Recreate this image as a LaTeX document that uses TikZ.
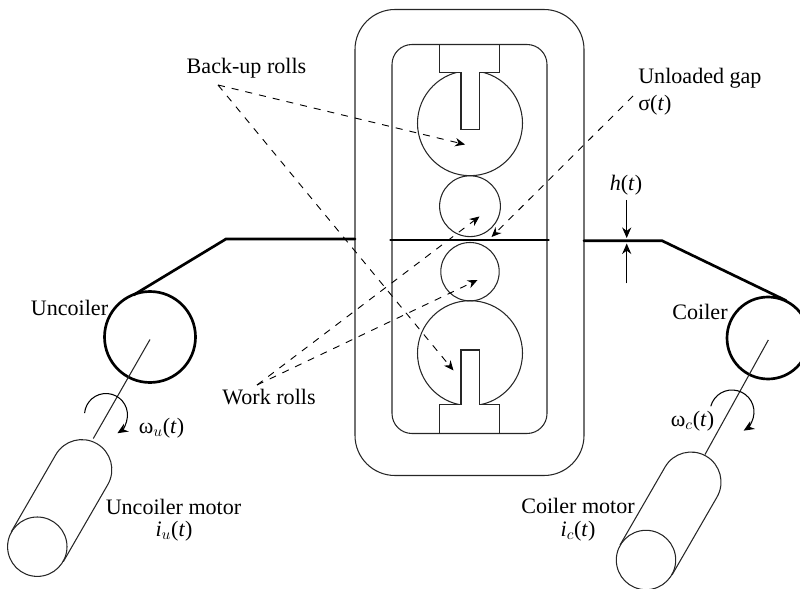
\documentclass[tikz,border=0pt]{standalone}
\usepackage{fontspec}
\setmainfont{Liberation Serif}
\usetikzlibrary{arrows.meta}
\tikzset{
  part/.style={line width=0.75pt, draw=black!85},
  strip/.style={line width=1.9pt, line cap=round},
  coil/.style={line width=1.9pt},
  leader/.style={line width=0.65pt, dash pattern=on 5pt off 5pt, -{Stealth[length=7pt,width=6pt]}},
  turn/.style={line width=0.75pt, -{Stealth[length=7.5pt,width=6.5pt]}},
  label/.style={font=\fontsize{15.7}{18}\selectfont, inner sep=0pt}
}
\begin{document}
\begin{tikzpicture}[x=0.025cm, y=0.025cm]

  \path[use as bounding box, clip] (0,-589) rectangle (800,0);

  % Rolls
  \draw[part] (470,-123.2) circle (52.5);
  \draw[part] (470,-206.2) circle (30.4);
  \draw[part] (470,-271.7) circle (29.2);
  \draw[part] (470,-353.2) circle (52.5);

  % Chocks
  \draw[part, fill=white] (439.5,-44.5) -- (439.5,-72.3) -- (461,-72.3) -- (461,-129.3)
    -- (479.7,-129.3) -- (479.7,-72.3) -- (499.7,-72.3) -- (499.7,-44.5);
  \draw[part, fill=white] (439.5,-433.5) -- (439.5,-404.3) -- (461,-404.3) -- (461,-350)
    -- (479.7,-350) -- (479.7,-404.3) -- (499.7,-404.3) -- (499.7,-433.5);

  % Housing
  \draw[part, rounded corners=1cm] (355,-9.5) rectangle (584,-475.5);
  \draw[part, rounded corners=0.5cm] (392,-44.5) rectangle (547,-433.5);

  % Strip
  \draw[strip] (133.5,-295) -- (226,-239) -- (355,-239);
  \draw[strip] (390.5,-240) -- (548.5,-240);
  \draw[strip] (584,-240.7) -- (662,-240.7) -- (786,-300.5);

  % Coils
  \draw[coil] (150,-337) circle (45.5);
  \draw[coil] (768,-338) circle (41);

  % Shafts
  \coordinate (uncoilerhub) at (150,-339.5);
  \coordinate (uncoilerend) at (93.3,-438.5);
  \coordinate (coilerhub) at (768.3,-340);
  \coordinate (coilerend) at (705,-454.5);
  \draw[part] (uncoilerhub) -- (uncoilerend);
  \draw[part] (coilerhub) -- (coilerend);

  % Motors
  \foreach \mx/\my/\ml in {37.3/-546.7/89, 646/-560/90} {
    \draw[part] (\mx,\my) circle (29.7);
    \draw[part] (\mx,\my) ++(150:30) -- ++(60:\ml)
      arc[start angle=150, end angle=-30, radius=30] -- ++(240:\ml);
  }

  % Rotation
  \draw[turn] (106,-415) ++(175:21.5) arc[start angle=175, end angle=-58, radius=21.5];
  \draw[turn] (732,-412) ++(165:22) arc[start angle=165, end angle=-58, radius=22];

  % Labels
  \node[label] (backup) at (246.5,-68) {Back-up rolls};
  \node[label] (work) at (269,-397) {Work rolls};
  \node[label, anchor=west] (gap) at (638,-78) {Unloaded gap};
  \node[label, anchor=west] (sigma) at (638,-105) {σ(\textit{t})};
  \node[label] (thick) at (626,-185) {\textit{h}(\textit{t})};
  \node[label] (uncoiler) at (69.5,-308) {Uncoiler};
  \node[label] (coiler) at (700,-311.5) {Coiler};
  \node[label] (omegau) at (161.5,-428) {ω$_u$(\textit{t})};
  \node[label] (omegac) at (692.5,-421.5) {ω$_c$(\textit{t})};
  \node[label] (umotor) at (173.5,-506.5) {Uncoiler motor};
  \node[label] (iu) at (174,-531.5) {\textit{i}$_u$(\textit{t})};
  \node[label] (cmotor) at (578,-505.5) {Coiler motor};
  \node[label] (ic) at (578,-531.5) {\textit{i}$_c$(\textit{t})};

  % Leaders
  \coordinate (backupfrom) at (218,-85);
  \coordinate (backupa) at (465,-144.5);
  \coordinate (backupb) at (453.5,-370.5);
  \coordinate (workfrom) at (257,-385);
  \coordinate (worka) at (479.5,-216.5);
  \coordinate (workb) at (477.5,-280);
  \coordinate (gapfrom) at (633,-96);
  \coordinate (gapto) at (491.5,-237);
  \draw[leader] (backupfrom) -- (backupa);
  \draw[leader] (backupfrom) -- (backupb);
  \draw[leader] (workfrom) -- (worka);
  \draw[leader] (workfrom) -- (workb);
  \draw[leader] (gapfrom) -- (gapto);

  % Thickness
  \coordinate (thicka) at (626.7,-200);
  \coordinate (thickb) at (626.7,-238);
  \coordinate (thickc) at (626.7,-283.5);
  \coordinate (thickd) at (626.7,-243.5);
  \draw[turn] (thicka) -- (thickb);
  \draw[turn] (thickc) -- (thickd);

\end{tikzpicture}
\end{document}
